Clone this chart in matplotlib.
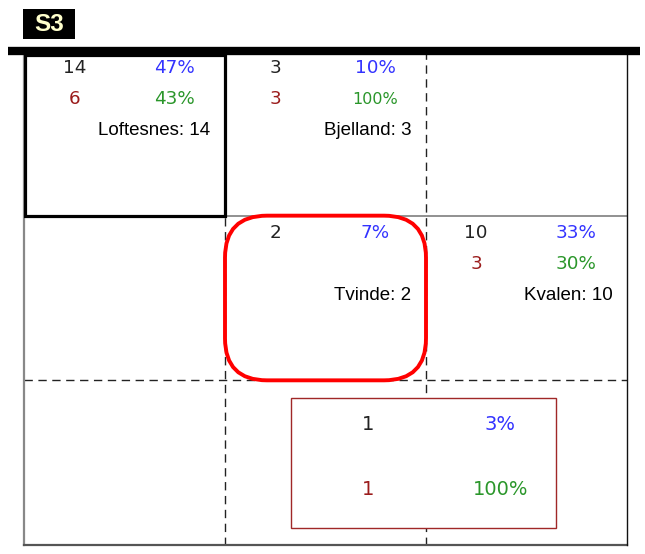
import matplotlib
matplotlib.use("Agg")
from matplotlib import pyplot as plt
from matplotlib.patches import Rectangle, FancyBboxPatch

plt.rcParams['font.family'] = ['Liberation Sans', 'DejaVu Sans']

# data
names = ["Loftesnes", "Bjelland", "Tvinde", "Kvalen"]
grid_row = [0, 0, 1, 1]
grid_col = [0, 1, 1, 2]
counts = [14, 3, 2, 10]
shares = [47, 10, 7, 33]
sub_counts = [6, 3, None, 3]
sub_shares = [43, 100, None, 30]
summary_count = 1
summary_share = 3
summary_sub = 1
summary_sub_share = 100
panel_label = "S3"

# colours
c_txt = "#222222"
c_sub = "#9b1c1c"
c_blue = "#3333ff"
c_green = "#2a962a"
num_font = dict(family="DejaVu Sans", ha="center", va="center", zorder=4)

W, H = 645, 554
CW, CH = 201, 164.7
fig = plt.figure(figsize=(W / 100, H / 100), dpi=100)
ax = fig.add_axes([24 / W, 1 - 545 / H, 603 / W, 494 / H])
ax.set_xlim(0, 3 * CW)
ax.set_ylim(3 * CH, 0)
ax.axis("off")

# grid
dash = dict(color="#222222", lw=1.0, ls=(0, (6, 4)), zorder=1)
for j in (1, 2):
    ax.plot([j * CW, j * CW], [0, 3 * CH], **dash)
ax.plot([0, 3 * CW], [2 * CH, 2 * CH], **dash)
ax.plot([0, 3 * CW], [CH, CH], color="#888888", lw=1.3, zorder=1)
ax.plot([0, 0], [0, 3 * CH], color="#888888", lw=1.6, zorder=1, clip_on=False)
ax.plot([0, 3 * CW], [3 * CH, 3 * CH], color="#555555", lw=1.6, zorder=1, clip_on=False)
ax.plot([3 * CW, 3 * CW], [0, 3 * CH], color="#111111", lw=1.0, zorder=1, clip_on=False)

# top bar and panel label
ax.plot([-16, 616], [0, 0], color="black", lw=6, solid_capstyle="butt", clip_on=False, zorder=5)
ax.add_patch(Rectangle((-1, -42), 52, 30, facecolor="black", clip_on=False, zorder=5))
ax.text(25, -26.5, panel_label, color="#ffffcc", fontsize=17.5, fontweight="bold",
        ha="center", va="center", clip_on=False, zorder=6)

# highlighted cells
ax.add_patch(Rectangle((1, 4), CW - 1, CH - 4, fill=False, edgecolor="black", lw=2.3, zorder=3))
ax.add_patch(FancyBboxPatch((CW, CH), CW, CH, boxstyle="round,pad=0,rounding_size=42",
                            fill=False, edgecolor="#ff0000", lw=2.8, zorder=3))

# cell texts
for i, name in enumerate(names):
    x0 = grid_col[i] * CW
    y0 = grid_row[i] * CH
    ax.text(x0 + 0.25 * CW, y0 + 17, str(counts[i]), color=c_txt, fontsize=13.2, **num_font)
    ax.text(x0 + 0.746 * CW, y0 + 17, f"{shares[i]}%", color=c_blue, fontsize=13.2, **num_font)
    if sub_counts[i] is not None:
        ax.text(x0 + 0.25 * CW, y0 + 48.5, str(sub_counts[i]), color=c_sub, fontsize=13.2, **num_font)
        fs = 11.5 if sub_shares[i] >= 100 else 13.2
        ax.text(x0 + 0.746 * CW, y0 + 48.5, f"{sub_shares[i]}%", color=c_green, fontsize=fs, **num_font)
    ax.text(x0 + 0.928 * CW, y0 + 80, f"{name}: {counts[i]}", color="black", fontsize=13.5,
            ha="right", va="center", zorder=4)

# summary box
ax.add_patch(Rectangle((267, 347), 265, 130, facecolor="white", edgecolor="#a02828",
                       lw=1.0, zorder=2))
ax.text(344, 374, str(summary_count), color=c_txt, fontsize=14, **num_font)
ax.text(476, 374, f"{summary_share}%", color=c_blue, fontsize=14, **num_font)
ax.text(344, 438.5, str(summary_sub), color=c_sub, fontsize=14, **num_font)
ax.text(477, 438.5, f"{summary_sub_share}%", color=c_green, fontsize=14, **num_font)

fig.savefig("out.png", dpi=100)
